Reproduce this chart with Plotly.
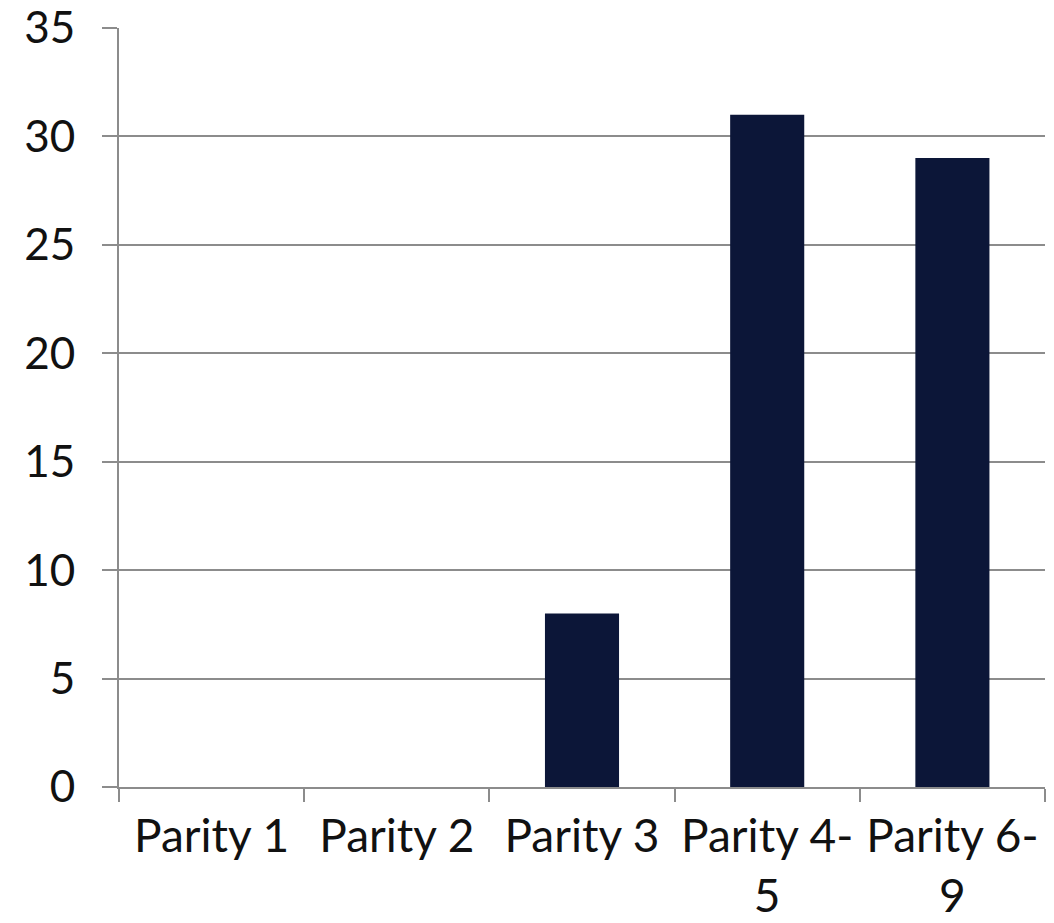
import plotly.graph_objects as go

categories = ["Parity 1", "Parity 2", "Parity 3", "Parity 4-<br>5", "Parity 6-<br>9"]
values = [0, 0, 8, 31, 29]
y_ticks = [0, 5, 10, 15, 20, 25, 30, 35]

bar_color = "#0c1638"
grid_color = "#8c8c8c"
font_family = "Lato, 'DejaVu Sans', sans-serif"

fig = go.Figure(go.Bar(x=categories, y=values, marker=dict(color=bar_color, line=dict(width=0))))

fig.update_layout(
    width=1054, height=923,
    margin=dict(l=119, r=9, t=28, b=136, autoexpand=False),
    plot_bgcolor="white", paper_bgcolor="white",
    bargap=0.6,
    showlegend=False,
    font=dict(family=font_family, size=46, color="#111111"),
)
fig.update_xaxes(
    type="category",
    tickson="boundaries",
    ticks="outside", ticklen=13, tickcolor=grid_color, tickwidth=2,
    showline=True, linecolor=grid_color, linewidth=2,
    showgrid=False,
    automargin=False,
    ticklabelstandoff=8,
    tickfont=dict(size=46),
)
fig.update_yaxes(
    range=[0, 35], tickvals=y_ticks,
    ticks="outside", ticklen=15, tickcolor=grid_color, tickwidth=2,
    showline=True, linecolor=grid_color, linewidth=2,
    showgrid=True, gridcolor=grid_color, gridwidth=2,
    zeroline=False,
    automargin=False,
    ticklabelstandoff=18,
    tickfont=dict(size=44),
)

fig.write_html("out.html")
